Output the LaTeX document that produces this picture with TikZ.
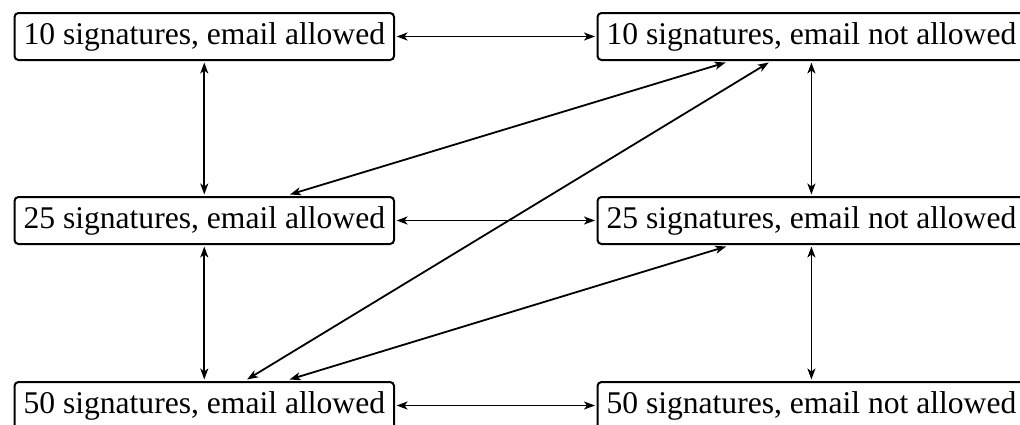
\documentclass[tikz,border=0pt]{standalone}
\usepackage{fontspec}
\setmainfont{Liberation Serif}
\usetikzlibrary{arrows.meta}
\begin{document}
\begin{tikzpicture}[x=1pt,y=1pt,
  state/.style={draw, line width=2pt, rounded corners=4pt, anchor=west,
    inner xsep=9pt, inner ysep=9pt, text height=22pt, text depth=7pt,
    outer sep=2.5pt, font=\fontsize{31.6}{38}\selectfont},
  link/.style={line width=1.8pt, {Stealth[length=11pt,width=8pt,inset=3pt]}-{Stealth[length=11pt,width=8pt,inset=3pt]}}]
\useasboundingbox (0,0) rectangle (1020,-424);
\clip (0,0) rectangle (1020,-424);
\node[state] (a10) at (12,-36.5) {10 signatures, email allowed};
\node[state] (n10) at (595,-36.5) {10 signatures, email not allowed};
\node[state] (a25) at (12,-220.5) {25 signatures, email allowed};
\node[state] (n25) at (595,-220.5) {25 signatures, email not allowed};
\node[state] (a50) at (12,-405.5) {50 signatures, email allowed};
\node[state] (n50) at (595,-405.5) {50 signatures, email not allowed};
\draw[link] (a10) -- (n10);
\draw[link] (a25) -- (n25);
\draw[link] (a50) -- (n50);
\draw[link] (a10) -- (a25);
\draw[link] (a25) -- (a50);
\draw[link] (n10) -- (n25);
\draw[link] (n25) -- (n50);
\draw[link] (a25) -- (n10);
\draw[link] (a50) -- (n10);
\draw[link] (a50) -- (n25);
\end{tikzpicture}
\end{document}
